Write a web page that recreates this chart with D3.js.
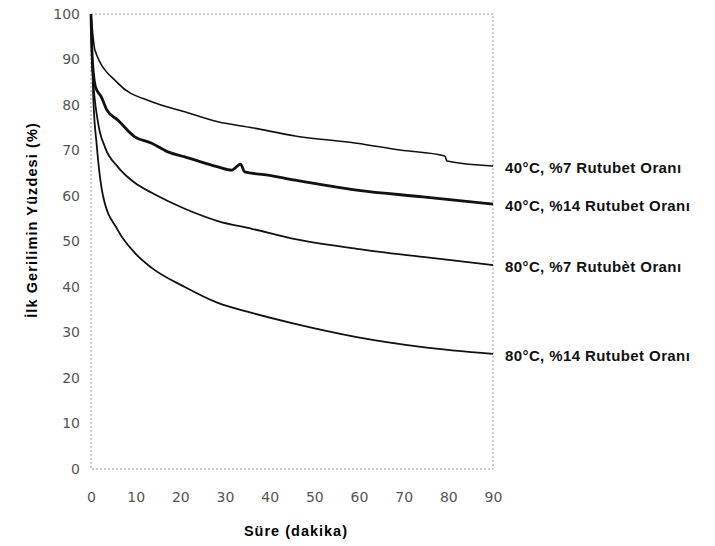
<!DOCTYPE html>
<html>
<head>
<meta charset="utf-8">
<script src="https://cdn.jsdelivr.net/npm/d3@7"></script>
<style>
  body { margin: 0; background: #fff; }
  text { font-family: "Liberation Sans", Arial, sans-serif; }
</style>
</head>
<body>
<div id="main"></div>
<script>
// chart data (time in minutes, value in %)
const xTicks = [0, 10, 20, 30, 40, 50, 60, 70, 80, 90];
const yTicks = [0, 10, 20, 30, 40, 50, 60, 70, 80, 90, 100];

const seriesNames = [
    '40°C, %7 Rutubet Oranı',
    '40°C, %14 Rutubet Oranı',
    '80°C, %7 Rutubèt Oranı',
    '80°C, %14 Rutubet Oranı'
];

const t40_7 = [0, 0.9, 6, 13.6, 21, 28.4, 36, 45.7, 59.5, 69.2, 79.2, 79.7, 90];
const v40_7 = [100, 92, 84.8, 80.7, 78.5, 76.3, 75, 73.2, 71.6, 70.1, 68.8, 67.7, 66.6];

const t40_14 = [0, 0.3, 1, 2.3, 3.5, 6, 9.8, 13.6, 17.2, 21, 28.4, 31.5, 33.5, 34.4, 39.6, 45.7, 59.5, 74.3, 90];
const v40_14 = [100, 90, 84, 81.8, 79, 76.7, 73, 71.6, 69.7, 68.6, 66.4, 65.7, 67, 65.3, 64.6, 63.5, 61.3, 59.8, 58.2];

const t80_7 = [0, 0.3, 1.6, 3.1, 6, 9.8, 13.6, 21, 28.4, 36, 45.7, 59.5, 74.3, 90];
const v80_7 = [100, 88, 76, 70.8, 66.4, 62.9, 60.7, 57.2, 54.5, 52.8, 50.5, 48.4, 46.6, 44.8];

const t80_14 = [0, 0.5, 1.3, 2.7, 6, 9.8, 13.6, 21, 28.4, 36, 45.7, 59.5, 74.3, 90];
const v80_14 = [100, 82, 71, 60, 52.5, 47.5, 44.2, 40, 36.5, 34.3, 31.9, 29, 26.8, 25.3];

const series = [
    { name: seriesNames[0], t: t40_7, v: v40_7, width: 1.6 },
    { name: seriesNames[1], t: t40_14, v: v40_14, width: 2.8 },
    { name: seriesNames[2], t: t80_7, v: v80_7, width: 1.8 },
    { name: seriesNames[3], t: t80_14, v: v80_14, width: 1.8 }
];

const svgWidth = 715, svgHeight = 546;
const margin = { left: 91, top: 14, right: 222, bottom: 77 };
const chartWidth = svgWidth - margin.left - margin.right;
const chartHeight = svgHeight - margin.top - margin.bottom;

const svg = d3.select('#main')
    .append('svg')
    .attr('width', svgWidth)
    .attr('height', svgHeight);

const g = svg.append('g')
    .attr('transform', `translate(${margin.left}, ${margin.top})`);

const xScale = d3.scaleLinear().domain([0, 90]).range([0, chartWidth]);
const yScale = d3.scaleLinear().domain([0, 100]).range([chartHeight, 0]);

// dotted frame round the plot area
g.append('rect')
    .attr('width', chartWidth)
    .attr('height', chartHeight)
    .attr('fill', 'none')
    .attr('stroke', '#999')
    .attr('stroke-width', 1)
    .attr('stroke-dasharray', '2,2');

// axes (tick labels only, lines hidden)
const xAxis = g.append('g')
    .attr('transform', `translate(0, ${chartHeight})`)
    .call(d3.axisBottom(xScale).tickValues(xTicks).tickSize(0).tickPadding(23));
const yAxis = g.append('g')
    .call(d3.axisLeft(yScale).tickValues(yTicks).tickSize(0).tickPadding(11));

[xAxis, yAxis].forEach(a => {
    a.select('.domain').remove();
    a.selectAll('text')
        .attr('fill', '#555')
        .style('font-family', '"DejaVu Sans", sans-serif')
        .style('font-size', '14px');
});

// curves
const line = d3.line()
    .x(d => xScale(d[0]))
    .y(d => yScale(d[1]))
    .curve(d3.curveMonotoneX);

series.forEach(s => {
    const pts = s.t.map((t, i) => [t, s.v[i]]);
    g.append('path')
        .datum(pts)
        .attr('fill', 'none')
        .attr('stroke', '#111')
        .attr('stroke-width', s.width)
        .attr('stroke-linejoin', 'round')
        .attr('d', line);

    g.append('text')
        .attr('x', chartWidth + 12)
        .attr('y', yScale(s.v[s.v.length - 1]) + 3)
        .attr('dominant-baseline', 'middle')
        .attr('font-size', 15)
        .attr('font-weight', 'bold')
        .attr('letter-spacing', 0.4)
        .attr('fill', '#111')
        .text(s.name);
});

// axis titles
svg.append('text')
    .attr('x', 296)
    .attr('y', 536)
    .attr('text-anchor', 'middle')
    .attr('font-size', 14.5)
    .attr('font-weight', 'bold')
    .attr('letter-spacing', 1)
    .text('Süre (dakika)');

svg.append('text')
    .attr('transform', 'translate(33, 220) rotate(-90)')
    .attr('text-anchor', 'middle')
    .attr('dominant-baseline', 'middle')
    .attr('font-size', 14.5)
    .attr('font-weight', 'bold')
    .attr('letter-spacing', 1.1)
    .text('İlk Gerilimin Yüzdesi (%)');
</script>
</body>
</html>
